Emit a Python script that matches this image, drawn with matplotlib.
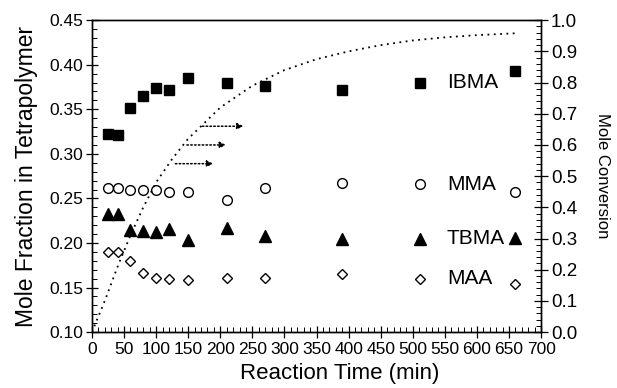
import matplotlib.pyplot as plt
from matplotlib.ticker import MultipleLocator

plt.rcParams['font.family'] = ['Liberation Sans', 'DejaVu Sans']

# sampling times (min) and mole fraction of each monomer in the tetrapolymer
time = [25, 40, 60, 80, 100, 120, 150, 210, 270, 390, 660]
ibma = [0.322, 0.321, 0.351, 0.365, 0.374, 0.372, 0.385, 0.379, 0.376, 0.372, 0.393]
mma = [0.262, 0.262, 0.260, 0.260, 0.260, 0.257, 0.257, 0.248, 0.262, 0.267, 0.257]
tbma = [0.232, 0.232, 0.215, 0.214, 0.212, 0.216, 0.203, 0.217, 0.208, 0.205, 0.206]
maa = [0.190, 0.190, 0.180, 0.166, 0.161, 0.160, 0.159, 0.161, 0.161, 0.165, 0.154]

# overall mole conversion curve
conv_time = [0, 20, 40, 60, 80, 100, 125, 150, 175, 200, 250, 300, 350, 400, 450, 500, 550, 600, 660]
conv = [0.0, 0.10, 0.21, 0.31, 0.40, 0.48, 0.555, 0.62, 0.67, 0.72, 0.79, 0.84, 0.875,
        0.90, 0.92, 0.935, 0.945, 0.952, 0.958]

# arrows from the curve towards the right axis: (conversion, start time, end time)
arrows = [(0.66, 172, 236), (0.60, 148, 209), (0.54, 130, 189)]

# in-plot key: names and y values
key_names = ['IBMA', 'MMA', 'TBMA', 'MAA']
key_y = [0.380, 0.266, 0.205, 0.160]

styles = [
    dict(marker='s', ms=7, mfc='black', mec='black'),
    dict(marker='o', ms=7, mfc='white', mec='black', mew=1.0),
    dict(marker='^', ms=8, mfc='black', mec='black'),
    dict(marker='D', ms=5.5, mfc='white', mec='black', mew=1.0),
]

fig = plt.figure(figsize=(6.17, 3.88), dpi=100)
ax = fig.add_axes([0.149, 0.144, 0.728, 0.804])

for ys, st in zip([ibma, mma, tbma, maa], styles):
    ax.plot(time, ys, ls='none', **st)

for name, y, st in zip(key_names, key_y, styles):
    ax.plot([512], [y], ls='none', **st)
    ax.text(553, y, name, fontsize=15, va='center', ha='left')

ax.set_xlim(0, 700)
ax.set_ylim(0.10, 0.45)
ax.xaxis.set_major_locator(MultipleLocator(50))
ax.xaxis.set_minor_locator(MultipleLocator(10))
ax.yaxis.set_major_locator(MultipleLocator(0.05))
ax.yaxis.set_minor_locator(MultipleLocator(0.01))
ax.yaxis.set_major_formatter(plt.FormatStrFormatter('%.2f'))
ax.tick_params(which='major', direction='inout', length=8, width=0.9)
ax.tick_params(which='minor', direction='in', length=3.5, width=0.7)
ax.tick_params(axis='y', labelsize=12.5, pad=2)
ax.tick_params(axis='x', labelsize=12.5, pad=3)
for lab in ax.get_xticklabels():
    lab.set_family(['Liberation Sans Narrow', 'Liberation Sans'])
ax.set_xlabel('Reaction Time (min)', fontsize=16)
ax.xaxis.set_label_coords(0.552, -0.10)
ax.set_ylabel('Mole Fraction in Tetrapolymer', fontsize=16.5, labelpad=8)

ax2 = ax.twinx()
ax2.plot(conv_time, conv, color='black', lw=1.3, ls=(0, (1, 2.5)))
for c, t0, t1 in arrows:
    ax2.annotate('', xy=(t1, c), xytext=(t0, c),
                 arrowprops=dict(arrowstyle='-|>', lw=1.1, ls=(0, (1, 1.5)),
                                 color='black', mutation_scale=9,
                                 shrinkA=0, shrinkB=0))
ax2.set_ylim(0.0, 1.0)
ax2.yaxis.set_major_locator(MultipleLocator(0.1))
ax2.yaxis.set_minor_locator(MultipleLocator(0.02))
ax2.yaxis.set_major_formatter(plt.FormatStrFormatter('%.1f'))
ax2.tick_params(which='major', direction='inout', length=10, width=0.9, labelsize=13.5, pad=2)
ax2.tick_params(which='minor', direction='in', length=3.5, width=0.7)
ax2.set_ylabel('Mole Conversion', fontsize=12, rotation=270, labelpad=24)

for a in (ax, ax2):
    for sp in a.spines.values():
        sp.set_linewidth(1.0)

fig.savefig('out.png', dpi=100)
